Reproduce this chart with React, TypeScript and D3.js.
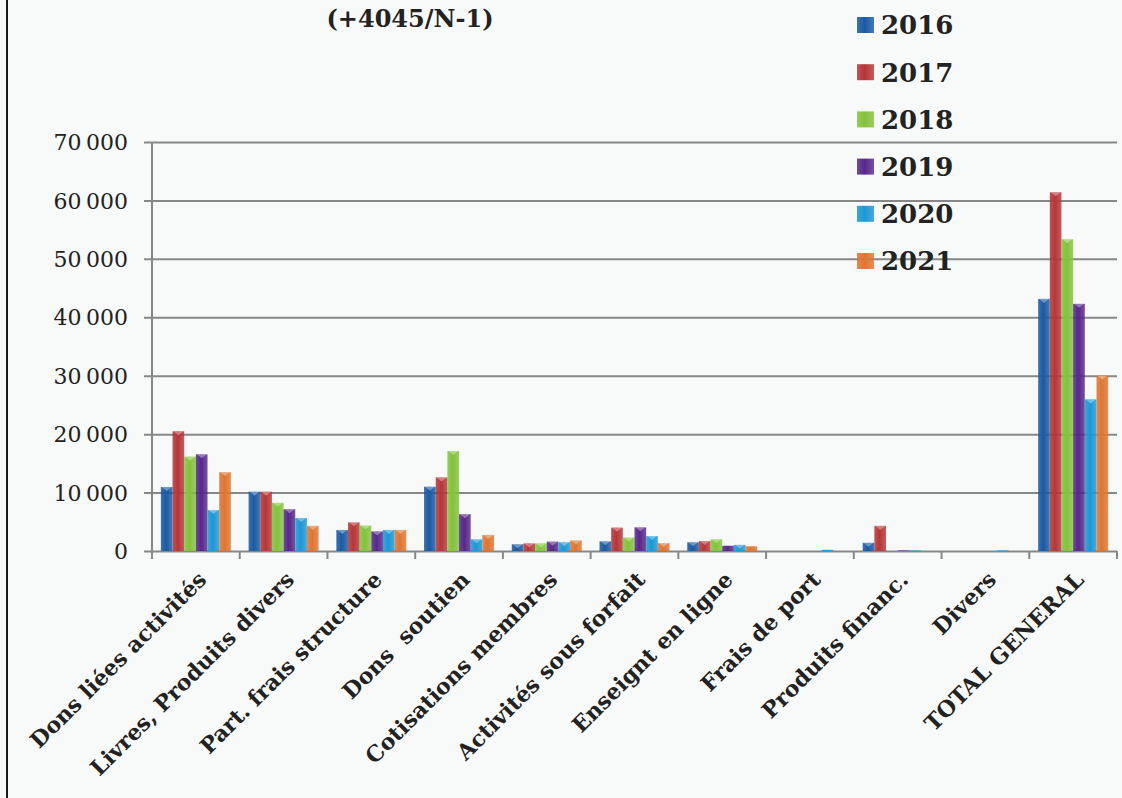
import { useEffect, useRef } from 'react';
import { select, scaleBand, scaleLinear, axisLeft } from 'd3';

const categories = [
  'Dons liées activités',
  'Livres, Produits divers',
  'Part. frais structure',
  'Dons  soutien',
  'Cotisations membres',
  'Activités sous forfait',
  'Enseignt en ligne',
  'Frais de port',
  'Produits financ.',
  'Divers',
  'TOTAL GENERAL',
];

const years = ['2016', '2017', '2018', '2019', '2020', '2021'];

const v2016 = [10950, 10150, 3600, 11000, 1150, 1650, 1500, 0, 1400, 0, 43150];
const v2017 = [20500, 10150, 4900, 12600, 1300, 4000, 1700, 0, 4300, 0, 61400];
const v2018 = [16150, 8250, 4350, 17100, 1300, 2300, 2000, 0, 0, 0, 53350];
const v2019 = [16550, 7150, 3350, 6300, 1600, 4050, 900, 0, 100, 0, 42300];
const v2020 = [7000, 5650, 3600, 2000, 1500, 2550, 1050, 200, 100, 100, 25950];
const v2021 = [13500, 4300, 3600, 2750, 1800, 1350, 800, 0, 0, 0, 30000];

const series = [v2016, v2017, v2018, v2019, v2020, v2021];
const colors = ['#1b5aa3', '#b53638', '#84c23c', '#57288a', '#1d97d5', '#de7632'];
const yTicks = [0, 10000, 20000, 30000, 40000, 50000, 60000, 70000];

const W = 1122;
const H = 798;
const plot = { left: 152, right: 1117, top: 142, bottom: 551 };

const fmt = (v: number) =>
  v === 0 ? '0' : `${Math.floor(v / 1000)}\u2009${String(v % 1000).padStart(3, '0')}`;

const App = () => {
  const svgRef = useRef<SVGSVGElement>(null);

  useEffect(() => {
    if (!svgRef.current) return;
    const svg = select(svgRef.current);
    svg.selectAll('*').remove();

    svg.append('rect').attr('width', W).attr('height', H).attr('fill', '#f8f9f9');

    // left page border
    svg
      .append('line')
      .attr('x1', 7)
      .attr('x2', 7)
      .attr('y1', 0)
      .attr('y2', H)
      .attr('stroke', '#1a1a1a')
      .attr('stroke-width', 2);

    const defs = svg.append('defs');
    colors.forEach((c, i) => {
      const g = defs
        .append('linearGradient')
        .attr('id', `grad${i}`)
        .attr('x1', '0%')
        .attr('x2', '100%');
      g.append('stop').attr('offset', '0%').attr('stop-color', c).attr('stop-opacity', 0.85);
      g.append('stop').attr('offset', '45%').attr('stop-color', c);
      g.append('stop').attr('offset', '100%').attr('stop-color', c).attr('stop-opacity', 0.8);
    });

    const x0 = scaleBand<string>()
      .domain(categories)
      .range([plot.left, plot.right])
      .padding(0);
    const x1 = scaleBand<string>()
      .domain(years)
      .range([0, x0.bandwidth()])
      .paddingInner(0)
      .paddingOuter(0.76);
    const y = scaleLinear().domain([0, 70000]).range([plot.bottom, plot.top]);

    // y axis with gridlines
    const yAxis = svg
      .append('g')
      .attr('transform', `translate(${plot.left},0)`)
      .call(
        axisLeft(y)
          .tickValues(yTicks)
          .tickSize(-(plot.right - plot.left))
          .tickFormat((d) => fmt(d as number))
          .tickPadding(24),
      );
    yAxis.select('.domain').remove();
    yAxis
      .selectAll('.tick line')
      .attr('x1', -8)
      .attr('stroke', '#878787')
      .attr('stroke-width', 2);
    yAxis
      .selectAll('.tick text')
      .attr('font-family', 'DejaVu Serif')
      .attr('font-size', 22)
      .attr('fill', '#222')
      .attr('dy', '0.35em');

    // vertical axis line
    svg
      .append('line')
      .attr('x1', plot.left)
      .attr('x2', plot.left)
      .attr('y1', plot.top)
      .attr('y2', plot.bottom + 8)
      .attr('stroke', '#878787')
      .attr('stroke-width', 2);

    // x tick marks
    const bounds = categories.map((c) => x0(c)!).concat([plot.right]);
    svg
      .append('g')
      .selectAll('line')
      .data(bounds.slice(1))
      .join('line')
      .attr('x1', (d) => d)
      .attr('x2', (d) => d)
      .attr('y1', plot.bottom)
      .attr('y2', plot.bottom + 8)
      .attr('stroke', '#878787')
      .attr('stroke-width', 2);

    // bars
    const groups = svg
      .append('g')
      .selectAll('g')
      .data(categories)
      .join('g')
      .attr('transform', (c) => `translate(${x0(c)},0)`);

    groups.each(function (c, ci) {
      const g = select(this);
      years.forEach((yr, si) => {
        const v = series[si][ci];
        if (v <= 0) return;
        const bx = x1(yr)!;
        const bw = x1.bandwidth();
        const top = y(v);
        const h = plot.bottom - top;
        g.append('rect')
          .attr('x', bx)
          .attr('y', top)
          .attr('width', bw)
          .attr('height', h)
          .attr('fill', `url(#grad${si})`);
        if (h > 6) {
          g.append('path')
            .attr(
              'd',
              `M${bx + 1},${top} L${bx + bw - 1},${top} L${bx + bw / 2},${top + 4} Z`,
            )
            .attr('fill', '#ffffff')
            .attr('opacity', 0.35);
        }
      });
    });

    // category labels
    svg
      .append('g')
      .selectAll('text')
      .data(categories)
      .join('text')
      .attr(
        'transform',
        (c) => `translate(${x0(c)! + x0.bandwidth() / 2 + 12},${plot.bottom + 30}) rotate(-45)`,
      )
      .attr('text-anchor', 'end')
      .attr('font-family', 'DejaVu Serif')
      .attr('font-weight', 'bold')
      .attr('font-size', 22)
      .attr('fill', '#222')
      .style('white-space', 'pre')
      .text((c) => c);

    // title fragment
    svg
      .append('text')
      .attr('x', 410)
      .attr('y', 27)
      .attr('text-anchor', 'middle')
      .attr('font-family', 'DejaVu Serif')
      .attr('font-weight', 'bold')
      .attr('font-size', 24)
      .attr('fill', '#222')
      .text('(+4045/N-1)');

    // legend
    const legend = svg
      .append('g')
      .selectAll('g')
      .data(years)
      .join('g')
      .attr('transform', (_, i) => `translate(857,${25 + i * 47.2})`);
    legend
      .append('rect')
      .attr('x', 0)
      .attr('y', -8)
      .attr('width', 17)
      .attr('height', 16)
      .attr('fill', (_, i) => `url(#grad${i})`);
    legend
      .append('text')
      .attr('x', 24)
      .attr('y', 0)
      .attr('dy', '0.36em')
      .attr('font-family', 'DejaVu Serif')
      .attr('font-weight', 'bold')
      .attr('font-size', 26)
      .attr('fill', '#222')
      .text((d) => d);
  }, []);

  return (
    <svg
      ref={svgRef}
      width={W}
      height={H}
      style={{ position: 'absolute', left: 0, top: 0, display: 'block' }}
    />
  );
};

export default App;
